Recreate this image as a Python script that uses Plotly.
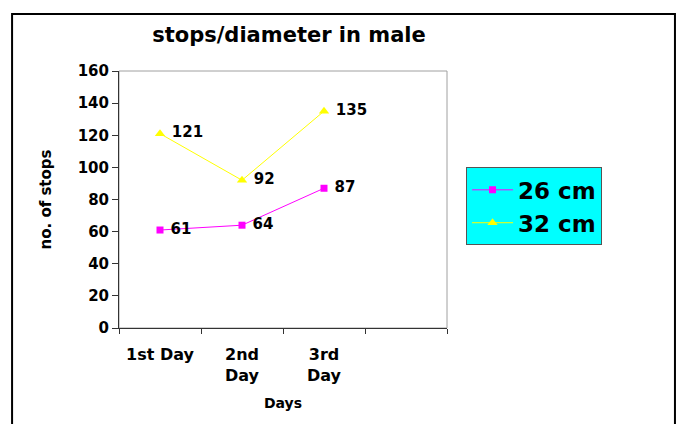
import plotly.graph_objects as go

days = ["1st Day", "2nd<br>Day", "3rd<br>Day", " "]
stops_26cm = [61, 64, 87]
stops_32cm = [121, 92, 135]

FONT = "DejaVu Sans, Arial, sans-serif"

fig = go.Figure()

fig.add_trace(go.Scatter(
    x=days[:3], y=stops_26cm, name="26 cm",
    mode="lines+markers+text",
    line=dict(color="#FF00FF", width=1),
    marker=dict(symbol="square", size=7, color="#FF00FF"),
    text=["\u00a0" + str(v) for v in stops_26cm], textposition="middle right",
    textfont=dict(family=FONT, size=15, color="black", weight="bold"),
    cliponaxis=False,
))
fig.add_trace(go.Scatter(
    x=days[:3], y=stops_32cm, name="32 cm",
    mode="lines+markers+text",
    line=dict(color="#FFFF00", width=1),
    marker=dict(symbol="triangle-up", size=9, color="#FFFF00"),
    text=["\u00a0" + str(v) for v in stops_32cm], textposition="middle right",
    textfont=dict(family=FONT, size=15, color="black", weight="bold"),
    cliponaxis=False,
))

# plot area frame (gray top/right) and outer chart border
fig.add_shape(type="rect", xref="paper", yref="paper", x0=0, x1=1, y0=0, y1=1,
              line=dict(color="#A0A0A0", width=1), layer="below")
fig.add_shape(type="rect", xref="paper", yref="paper",
              x0=-0.326, x1=1.695, y0=-0.42, y1=1.222,
              line=dict(color="black", width=2))

# the page draws the figure 8px in, so size and margins allow for it
fig.update_layout(
    width=676, height=416,
    margin=dict(l=111, r=237, t=63, b=96),
    paper_bgcolor="white", plot_bgcolor="white",
    font=dict(family=FONT, color="black"),
    title=dict(text="<b>stops/diameter in male</b>", x=0.4157, xanchor="center",
               y=0.935, yanchor="middle", font=dict(size=21)),
    showlegend=True,
    legend=dict(x=1.058, y=0.625, xanchor="left", yanchor="top",
                bgcolor="#00FFFF", bordercolor="#555555", borderwidth=1,
                font=dict(size=23, weight="bold"), tracegroupgap=0,
                itemwidth=41),
    xaxis=dict(
        type="category", categoryorder="array", categoryarray=days,
        range=[-0.5, 3.5], tickson="boundaries",
        showline=True, linecolor="#333333", linewidth=1,
        ticks="outside", ticklen=5, tickcolor="#333333",
        showgrid=False, zeroline=False, ticklabelstandoff=12,
        tickfont=dict(size=16, weight="bold"),
        title=dict(text="<b>Days</b>", font=dict(size=14), standoff=14),
    ),
    yaxis=dict(
        range=[0, 160], dtick=20,
        showline=True, linecolor="#333333", linewidth=1,
        ticks="outside", ticklen=6, tickcolor="#333333",
        showgrid=False, zeroline=False,
        tickfont=dict(size=15, weight="bold"),
        title=dict(text="<b>no. of stops</b>", font=dict(size=15), standoff=22),
    ),
)

fig.write_html("out.html")
